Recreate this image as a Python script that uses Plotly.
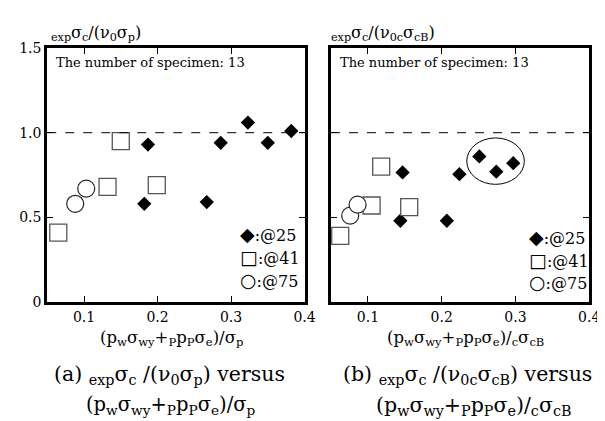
import plotly.graph_objects as go
from plotly.subplots import make_subplots

# ---- data (a) ----
a_d25_x = [0.187, 0.182, 0.286, 0.267, 0.323, 0.350, 0.382]
a_d25_y = [0.93, 0.58, 0.94, 0.59, 1.06, 0.94, 1.01]
a_d41_x = [0.065, 0.150, 0.132, 0.199]
a_d41_y = [0.41, 0.95, 0.68, 0.69]
a_d75_x = [0.088, 0.103]
a_d75_y = [0.58, 0.67]

# ---- data (b) ----
b_d25_x = [0.147, 0.144, 0.224, 0.207, 0.251, 0.274, 0.297]
b_d25_y = [0.765, 0.48, 0.755, 0.48, 0.86, 0.77, 0.82]
b_d41_x = [0.0625, 0.118, 0.105, 0.156]
b_d41_y = [0.39, 0.80, 0.57, 0.56]
b_d75_x = [0.076, 0.086]
b_d75_y = [0.51, 0.575]

ellipse_b = [0.234, 0.312, 0.695, 0.969]  # x0, x1, y0, y1

x_ticks = [0.1, 0.2, 0.3, 0.4]
x_ticktext = ["0.1", "0.2", "0.3", "0.4"]
y_ticks = [0, 0.5, 1.0, 1.5]
y_ticktext = ["0", "0.5", "1.0", "1.5"]
ref_line = 1.0
specimen_text = "The number of specimen: 13"
legend_labels = ["@25", "@41", "@75"]

W, H = 605, 421
FONT = "DejaVu Serif"

fig = make_subplots(rows=1, cols=2)

def add_panel(col, dx25, dy25, dx41, dy41, dx75, dy75):
    fig.add_trace(go.Scatter(x=dx25, y=dy25, mode="markers",
                             marker=dict(symbol="diamond", size=11, color="black",
                                         line=dict(width=0)),
                             showlegend=False), row=1, col=col)
    fig.add_trace(go.Scatter(x=dx41, y=dy41, mode="markers",
                             marker=dict(symbol="square", size=17, color="white",
                                         line=dict(width=1.3, color="#555")),
                             showlegend=False), row=1, col=col)
    fig.add_trace(go.Scatter(x=dx75, y=dy75, mode="markers",
                             marker=dict(symbol="circle", size=17, color="white",
                                         line=dict(width=1.2, color="#222")),
                             showlegend=False), row=1, col=col)

add_panel(1, a_d25_x, a_d25_y, a_d41_x, a_d41_y, a_d75_x, a_d75_y)
add_panel(2, b_d25_x, b_d25_y, b_d41_x, b_d41_y, b_d75_x, b_d75_y)

dom1 = [40 / W, 302 / W]
dom2 = [329 / W, 592 / W]
ydom = [1 - 297.3 / H, 1 - 33.3 / H]

axcommon = dict(showgrid=False, zeroline=False, showline=True, linecolor="black",
                linewidth=3, mirror="allticks", ticks="inside", ticklen=6,
                tickwidth=1, tickcolor="black",
                tickfont=dict(family=FONT, size=14, color="black"))

fig.update_xaxes(**axcommon, range=[0.05, 0.4], tickvals=x_ticks, ticktext=x_ticktext)
fig.update_yaxes(**axcommon, range=[0, 1.5], tickvals=y_ticks, ticktext=y_ticktext)
fig.update_layout(xaxis=dict(domain=dom1), xaxis2=dict(domain=dom2),
                  yaxis=dict(domain=ydom), yaxis2=dict(domain=ydom, showticklabels=False))

for xr, yr in [("x", "y"), ("x2", "y2")]:
    fig.add_shape(type="line", xref=xr + " domain", yref=yr, x0=0, x1=1,
                  y0=ref_line, y1=ref_line, line=dict(color="black", width=1, dash="dash"))

fig.add_shape(type="circle", xref="x2", yref="y2", x0=ellipse_b[0], x1=ellipse_b[1],
              y0=ellipse_b[2], y1=ellipse_b[3], line=dict(color="black", width=1))

ann = []
def A(x, y, text, size, xanchor="center", yanchor="middle"):
    ann.append(dict(x=x / W, y=1 - y / H, xref="paper", yref="paper", text=text,
                    showarrow=False, xanchor=xanchor, yanchor=yanchor,
                    font=dict(family=FONT, size=size, color="black")))

# y-axis titles
A(42, 18, "<sub>exp</sub>σ<sub>c</sub>/(ν<sub>0</sub>σ<sub>p</sub>)", 16, "left")
A(327, 18, "<sub>exp</sub>σ<sub>c</sub>/(ν<sub>0c</sub>σ<sub>cB</sub>)", 16, "left")
# specimen text
A(47, 48, specimen_text, 13, "left")
A(336, 48, specimen_text, 13, "left")
# x-axis titles
A(167, 335, "(p<sub>w</sub>σ<sub>wy</sub>+<sub>P</sub>p<sub>P</sub>σ<sub>e</sub>)/σ<sub>p</sub>", 16.5)
A(466, 335, "(p<sub>w</sub>σ<sub>wy</sub>+<sub>P</sub>p<sub>P</sub>σ<sub>e</sub>)/<sub>c</sub>σ<sub>cB</sub>", 16.5)
# captions
A(164, 373, "(a) <sub>exp</sub>σ<sub>c</sub> /(ν<sub>0</sub>σ<sub>p</sub>) versus", 20.5)
A(166, 405, "(p<sub>w</sub>σ<sub>wy</sub>+<sub>P</sub>p<sub>P</sub>σ<sub>e</sub>)/σ<sub>p</sub>", 19.5)
A(468, 373, "(b) <sub>exp</sub>σ<sub>c</sub> /(ν<sub>0c</sub>σ<sub>cB</sub>) versus", 20.5)
A(474, 405, "(p<sub>w</sub>σ<sub>wy</sub>+<sub>P</sub>p<sub>P</sub>σ<sub>e</sub>)/<sub>c</sub>σ<sub>cB</sub>", 20.5)

# legends
syms = ["◆", "□", "○"]
def legend(x0, ys):
    for s, lab, y in zip(syms, legend_labels, ys):
        A(x0, y, "<span style=\"font-size:19px\">" + s + "</span>:" + lab, 16, "left")
legend(234, [226.7, 250.7, 274])
legend(529, [230, 253.3, 276])

fig.update_layout(annotations=ann, width=W, height=H,
                  margin=dict(l=0, r=0, t=0, b=0),
                  plot_bgcolor="white", paper_bgcolor="white",
                  font=dict(family=FONT, color="black"))

fig.write_html("out.html")
